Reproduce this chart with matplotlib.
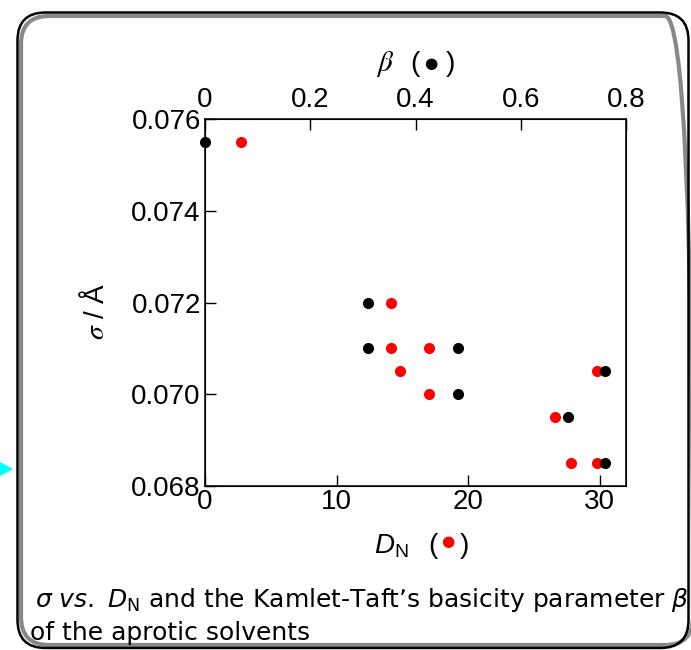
import matplotlib
matplotlib.use("Agg")
import matplotlib.pyplot as plt
from matplotlib.patches import FancyBboxPatch, Polygon
from matplotlib.transforms import IdentityTransform

# sigma (A) against donor number D_N (red)
dn = [2.7, 14.1, 14.1, 14.8, 17.0, 17.0, 26.6, 27.8, 29.8, 29.8]
sigma_dn = [0.0755, 0.072, 0.071, 0.0705, 0.071, 0.070, 0.0695, 0.0685, 0.0685, 0.0705]

# sigma (A) against Kamlet-Taft beta (black)
beta = [0.0, 0.31, 0.31, 0.48, 0.48, 0.69, 0.76, 0.76]
sigma_beta = [0.0755, 0.072, 0.071, 0.071, 0.070, 0.0695, 0.0705, 0.0685]

dn_ticks = [0, 10, 20, 30]
beta_ticks = [0, 0.2, 0.4, 0.6, 0.8]
beta_labels = ['0', '0.2', '0.4', '0.6', '0.8']
sigma_ticks = [0.068, 0.070, 0.072, 0.074, 0.076]

W, H = 691, 650
plt.rcParams['font.family'] = ['Liberation Sans', 'DejaVu Sans']
plt.rcParams['mathtext.fontset'] = 'custom'
plt.rcParams['mathtext.rm'] = 'Liberation Sans'
plt.rcParams['mathtext.it'] = 'Liberation Sans:italic'


def px(x, y):
    # pixel position (from top-left) -> figure fraction
    return x / W, 1 - y / H


fig = plt.figure(figsize=(W / 100, H / 100), dpi=100)

# rounded slide frame: gray shadow line + black line
fig.patches.append(FancyBboxPatch((21, 650 - 645), 672, 629,
                                  boxstyle="round,pad=0,rounding_size=28",
                                  transform=IdentityTransform(), facecolor='none',
                                  edgecolor='#888888', linewidth=3.0))
fig.patches.append(FancyBboxPatch((17.5, 650 - 648), 671, 635.5,
                                  boxstyle="round,pad=0,rounding_size=28",
                                  transform=IdentityTransform(), facecolor='none',
                                  edgecolor='black', linewidth=1.8))
# cyan arrow head on the left edge
fig.patches.append(Polygon([(0, 650 - 462), (13, 650 - 469), (0, 650 - 476)], closed=True,
                           transform=IdentityTransform(), facecolor='#00ffff', edgecolor='none'))

ax = fig.add_axes([205 / W, 1 - 486 / H, 421 / W, 367 / H])
ax.plot(dn, sigma_dn, 'o', color='#ff0000', markersize=8, markeredgewidth=0, clip_on=False)
ax.set_xlim(0, 32)
ax.set_ylim(0.068, 0.076)
ax.set_xticks(dn_ticks)
ax.set_xticklabels([str(t) for t in dn_ticks])
ax.set_yticks(sigma_ticks)
ax.set_yticklabels([f'{t:.3f}' for t in sigma_ticks])
ax.tick_params(axis='both', direction='in', length=8, width=1, labelsize=20)
ax.tick_params(axis='x', pad=2)
ax.tick_params(axis='y', pad=3)
for s in ax.spines.values():
    s.set_linewidth(1.1)

# beta on the top axis
ax2 = ax.twiny()
ax2.plot(beta, sigma_beta, 'o', color='black', markersize=8, markeredgewidth=0, clip_on=False)
ax2.set_xlim(0, 0.8)
ax2.set_xticks(beta_ticks)
ax2.set_xticklabels(beta_labels)
ax2.tick_params(axis='x', direction='in', length=8, width=1, labelsize=20, pad=4)

# axis labels
fig.text(*px(95, 311), r'$\sigma$ / Å', rotation=90, ha='center', va='center',
         fontsize=20, math_fontfamily='stix')
fig.text(*px(385, 64), r'$\beta$', ha='center', va='center', fontsize=21, math_fontfamily='stix')
fig.text(*px(415, 64), '(', ha='center', va='center', fontsize=20)
fig.text(*px(431, 63), '●', ha='center', va='center', fontsize=11, color='black',
         family='DejaVu Sans')
fig.text(*px(450, 64), ')', ha='center', va='center', fontsize=20)

fig.text(*px(391, 546), r'$D_{\mathrm{N}}$', ha='center', va='center', fontsize=20)
fig.text(*px(433, 546), '(', ha='center', va='center', fontsize=20)
fig.text(*px(448, 541), '●', ha='center', va='center', fontsize=11, color='#ff0000',
         family='DejaVu Sans')
fig.text(*px(464, 546), ')', ha='center', va='center', fontsize=20)

# caption (the final beta runs into the right edge, as in the slide)
fig.text(*px(35, 607), r'$\sigma$ $\mathit{vs.}$ $D_{\mathrm{N}}$ and the Kamlet-Taft’s basicity parameter $\beta$',
         ha='left', va='baseline', fontsize=18, family='DejaVu Sans', math_fontfamily='dejavusans')
fig.text(*px(30, 640), 'of the aprotic solvents',
         ha='left', va='baseline', fontsize=18, family='DejaVu Sans')

fig.savefig('out.png', dpi=100)
